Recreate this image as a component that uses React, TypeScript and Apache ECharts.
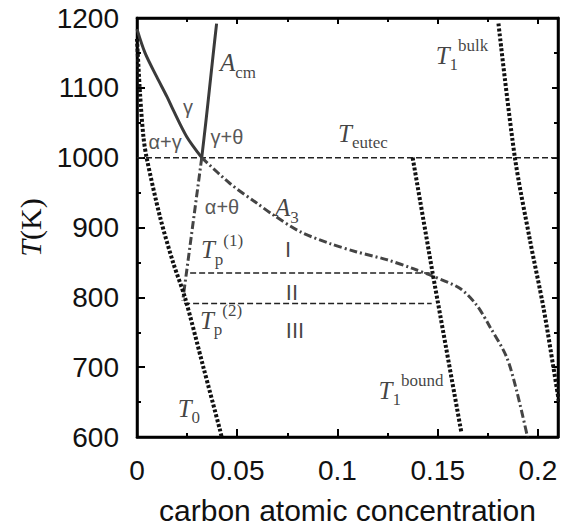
import React, { useEffect, useRef } from 'react';
import * as echarts from 'echarts';

// ---- axis ticks ----
const xMajorTicks = [0, 0.05, 0.1, 0.15, 0.2];
const xTickLabels = ['0', '0.05', '0.1', '0.15', '0.2'];
const xMinorTicks = [0.025, 0.075, 0.125, 0.175];
const yMin = 600;
const yMax = 1200;
const yStep = 100;

// ---- curves (carbon concentration, temperature K) ----
const gammaX = [0, 0.004, 0.0098, 0.015, 0.0181, 0.0248, 0.0323];
const gammaT = [1184, 1150, 1116, 1087, 1068, 1030, 1000];

const acmX = [0.0323, 0.0343, 0.0362, 0.038, 0.0397];
const acmT = [1000, 1050, 1100, 1148, 1192];

const a3X = [0.0323, 0.0464, 0.0597, 0.068, 0.0813, 0.0963, 0.1096, 0.1245, 0.1378, 0.1478, 0.161, 0.1694, 0.176, 0.1843, 0.1893, 0.1948];
const a3T = [1000, 963, 935, 918, 894, 877, 865, 854, 841, 830, 813, 789, 758, 715, 667, 600];

const alphaThetaX = [0.0323, 0.0228];
const alphaThetaT = [1000, 795];

const t0X = [0, 0.0015, 0.0032, 0.0048, 0.0115, 0.0181, 0.0239, 0.0331, 0.0414, 0.0422];
const t0T = [1170, 1092, 1030, 1000, 915, 849, 800, 700, 610, 600];

const t1BoundX = [0.1375, 0.1475, 0.1617];
const t1BoundT = [1000, 834, 608];

const t1BulkX = [0.1803, 0.1885, 0.196, 0.2027, 0.2077, 0.2105];
const t1BulkT = [1192, 1000, 882, 786, 700, 650];

const tEutecX = [0, 0.21];
const tEutecT = [1000, 1000];

const tp1X = [0.0265, 0.146];
const tp1T = [835, 835];

const tp2X = [0.0235, 0.147];
const tp2T = [791, 791];

// ---- annotations ----
const labelTexts = [
  '{m|A}{sub|cm}',
  '{m|T}{sub|1}{sup|bulk}',
  '{m|T}{sub|eutec}',
  '{m|A}{sub|3}',
  '{m|T}{sub|p}{sup|(1)}',
  '{m|T}{sub|p}{sup|(2)}',
  '{m|T}{sub|0}',
  '{m|T}{sub|1}{sup|bound}',
  '{g|γ}',
  '{g|α+γ}',
  '{g|γ+θ}',
  '{g|α+θ}',
  '{r|I}',
  '{r|II}',
  '{r|III}',
];
const labelX = [0.0504, 0.1621, 0.1127, 0.0748, 0.0424, 0.0419, 0.0259, 0.1367, 0.0254, 0.014, 0.0449, 0.0424, 0.0753, 0.0773, 0.0788];
const labelT = [1136, 1147, 1035, 928, 868, 767, 641, 667, 1072, 1022, 1030, 929, 868, 807, 753];

const zip = (xs: number[], ys: number[]) => xs.map((x, i) => [x, ys[i]]);

const SANS = 'Liberation Sans, Arial, Helvetica, sans-serif';
const SERIF = 'Liberation Serif, Times New Roman, serif';

export default function App() {
  const ref = useRef<HTMLDivElement>(null);

  useEffect(() => {
    if (!ref.current) return;
    const chart = echarts.init(ref.current, undefined, { renderer: 'svg' });

    const solid = { color: '#3a3a3a', width: 3, type: 'solid' as const };
    const dashDot = { color: '#444', width: 3, type: [8, 3, 2, 3], cap: 'butt' as const };
    const dotted = { color: '#111', width: 4, type: [3, 2], cap: 'butt' as const };
    const dashed = { color: '#222', width: 1.5, type: [6, 3] };

    const lineSeries = (data: number[][], lineStyle: any, smooth: number | boolean = false) => ({
      type: 'line',
      data,
      showSymbol: false,
      symbol: 'none',
      smooth,
      lineStyle,
      silent: true,
      xAxisIndex: 0,
      yAxisIndex: 0,
      clip: true,
    });
    const dummy = (xi: number, yi: number) => ({
      type: 'line',
      data: [],
      xAxisIndex: xi,
      yAxisIndex: yi,
      showSymbol: false,
      silent: true,
    });

    const tickLine = { color: '#000', width: 2 };
    const frameLine = { color: '#000', width: 2.5 };
    const baseX = {
      type: 'value',
      min: 0,
      max: 0.21,
      splitLine: { show: false },
    };
    const baseY = {
      type: 'value',
      min: yMin,
      max: yMax,
      interval: yStep,
      splitLine: { show: false },
      minorSplitLine: { show: false },
    };

    chart.setOption({
      animation: false,
      backgroundColor: '#fff',
      grid: {
        left: 137,
        top: 18,
        right: 15,
        bottom: 89,
        containLabel: false,
        outerBoundsMode: 'none',
        show: true,
        borderColor: '#000',
        borderWidth: 2.5,
        backgroundColor: 'transparent',
      },
      xAxis: [
        {
          ...baseX,
          position: 'bottom',
          axisLine: { show: true, onZero: false, lineStyle: frameLine },
          axisTick: { show: true, inside: true, length: 8, customValues: xMajorTicks, lineStyle: tickLine },
          axisLabel: {
            show: true,
            customValues: xMajorTicks,
            formatter: (v: number) => {
              const i = xMajorTicks.findIndex((t) => Math.abs(t - v) < 1e-9);
              return i >= 0 ? xTickLabels[i] : '';
            },
            margin: 19,
            fontSize: 28,
            color: '#111',
            fontFamily: SANS,
          },
          name: 'carbon atomic concentration',
          nameLocation: 'middle',
          nameGap: 58,
          nameTextStyle: { fontSize: 30, color: '#111', fontFamily: SANS },
        },
        {
          ...baseX,
          position: 'bottom',
          axisLine: { show: false, onZero: false },
          axisTick: { show: true, inside: true, length: 4, customValues: xMinorTicks, lineStyle: tickLine },
          axisLabel: { show: false },
        },
        {
          ...baseX,
          position: 'top',
          axisLine: { show: true, onZero: false, lineStyle: frameLine },
          axisTick: { show: true, inside: true, length: 6, customValues: xMajorTicks, lineStyle: tickLine },
          axisLabel: { show: false },
        },
        {
          ...baseX,
          position: 'top',
          axisLine: { show: false, onZero: false },
          axisTick: { show: true, inside: true, length: 4, customValues: xMinorTicks, lineStyle: tickLine },
          axisLabel: { show: false },
        },
      ],
      yAxis: [
        {
          ...baseY,
          position: 'left',
          axisLine: { show: true, onZero: false, lineStyle: frameLine },
          axisTick: { show: true, inside: true, length: 8, lineStyle: tickLine },
          minorTick: { show: true, splitNumber: 2, length: 4, lineStyle: tickLine },
          axisLabel: {
            show: true,
            margin: 18,
            fontSize: 28,
            color: '#111',
            fontFamily: SANS,
            formatter: (v: number) => String(v),
          },
          name: '{it|T}{n|(K)}',
          nameLocation: 'middle',
          nameGap: 91,
          nameRotate: 90,
          nameTextStyle: {
            rich: {
              it: { fontFamily: SERIF, fontStyle: 'italic', fontSize: 30, color: '#111' },
              n: { fontFamily: SERIF, fontSize: 30, color: '#111' },
            },
          },
        },
        {
          ...baseY,
          position: 'right',
          axisLine: { show: true, onZero: false, lineStyle: frameLine },
          axisTick: { show: true, inside: true, length: 6, lineStyle: tickLine },
          minorTick: { show: true, splitNumber: 2, length: 4, lineStyle: tickLine },
          axisLabel: { show: false },
        },
      ],
      series: [
        dummy(1, 1),
        dummy(2, 1),
        dummy(3, 1),
        lineSeries(zip(tEutecX, tEutecT), dashed),
        lineSeries(zip(tp1X, tp1T), dashed),
        lineSeries(zip(tp2X, tp2T), dashed),
        lineSeries(zip(gammaX, gammaT), solid, 0.3),
        lineSeries(zip(acmX, acmT), solid, 0.3),
        lineSeries(zip(a3X, a3T), dashDot, 0.3),
        lineSeries(zip(alphaThetaX, alphaThetaT), dashDot),
        lineSeries(zip(t0X, t0T), dotted, 0.3),
        lineSeries(zip(t1BoundX, t1BoundT), dotted),
        lineSeries(zip(t1BulkX, t1BulkT), dotted, 0.3),
        {
          type: 'scatter',
          silent: true,
          symbolSize: 0,
          z: 10,
          data: labelX.map((x, i) => ({ value: [x, labelT[i]] })),
          label: {
            show: true,
            position: 'inside',
            align: 'center',
            verticalAlign: 'middle',
            formatter: (p: any) => labelTexts[p.dataIndex],
            rich: {
              m: { fontFamily: SERIF, fontStyle: 'italic', fontSize: 25, color: '#111', lineHeight: 36 },
              sub: { fontFamily: SERIF, fontSize: 17, color: '#111', verticalAlign: 'bottom', lineHeight: 17 },
              sup: { fontFamily: SERIF, fontSize: 17, color: '#111', verticalAlign: 'top', lineHeight: 17 },
              g: { fontFamily: SANS, fontSize: 20, color: '#2a2a2a', lineHeight: 24 },
              r: { fontFamily: SANS, fontSize: 22, color: '#111', lineHeight: 24 },
            },
          },
        },
      ],
    });

    return () => chart.dispose();
  }, []);

  return (
    <div
      ref={ref}
      style={{ position: 'fixed', left: 0, top: 0, width: 573, height: 526, background: '#fff' }}
    />
  );
}
